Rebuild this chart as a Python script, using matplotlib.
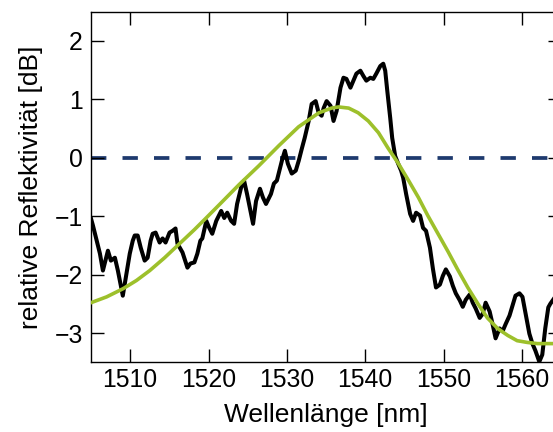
import matplotlib
matplotlib.use("Agg")
import matplotlib.pyplot as plt

plt.rcParams['font.family'] = ['Liberation Sans', 'DejaVu Sans']

# Measured relative reflectivity spectrum
wavelength_nm = [
    1505.00, 1505.25, 1505.51, 1505.89, 1506.14, 1506.52, 1506.90, 1507.16, 1507.54, 1508.05,
    1508.43, 1508.68, 1509.06, 1509.44, 1509.95, 1510.33, 1510.58, 1510.96, 1511.35, 1511.85,
    1512.23, 1512.61, 1512.87, 1513.25, 1513.76, 1514.14, 1514.52, 1515.03, 1515.41, 1515.79,
    1516.04, 1516.68, 1517.31, 1517.69, 1518.20, 1518.58, 1518.96, 1519.21, 1519.72, 1520.10,
    1520.48, 1520.99, 1521.62, 1522.01, 1522.39, 1522.89, 1523.27, 1523.65, 1524.16, 1524.54,
    1524.92, 1525.43, 1525.69, 1526.07, 1526.57, 1526.95, 1527.34, 1527.97, 1528.35, 1528.73,
    1529.37, 1529.75, 1530.13, 1530.63, 1531.14, 1531.52, 1531.90, 1532.28, 1532.79, 1533.17,
    1533.68, 1534.06, 1534.44, 1534.70, 1535.08, 1535.58, 1535.96, 1536.35, 1536.85, 1537.23,
    1537.61, 1538.12, 1538.50, 1538.88, 1539.39, 1539.77, 1540.15, 1540.66, 1541.04, 1541.42,
    1541.93, 1542.31, 1542.56, 1542.82, 1543.20, 1543.45, 1543.83, 1544.21, 1544.59, 1544.85,
    1545.23, 1545.74, 1546.12, 1546.50, 1547.01, 1547.39, 1547.77, 1548.27, 1548.65, 1549.04,
    1549.54, 1549.92, 1550.30, 1550.81, 1551.19, 1551.57, 1552.08, 1552.46, 1552.84, 1553.35,
    1553.73, 1554.11, 1554.62, 1555.00, 1555.38, 1555.89, 1556.27, 1556.65, 1557.16, 1557.54,
    1557.92, 1558.43, 1558.81, 1559.19, 1559.70, 1560.08, 1560.46, 1560.96, 1561.35, 1561.73,
    1562.23, 1562.61, 1562.99, 1563.38, 1563.63, 1564.10,
]
reflectivity_db = [
    -1.04, -1.16, -1.30, -1.50, -1.64, -1.93, -1.73, -1.59, -1.76, -1.71,
    -1.93, -2.10, -2.36, -2.05, -1.64, -1.42, -1.33, -1.33, -1.54, -1.76,
    -1.71, -1.42, -1.30, -1.28, -1.45, -1.38, -1.45, -1.28, -1.25, -1.21,
    -1.47, -1.62, -1.88, -1.81, -1.79, -1.64, -1.42, -1.38, -1.08, -1.20,
    -1.30, -1.08, -0.91, -1.03, -0.94, -1.08, -1.13, -0.79, -0.51, -0.39,
    -0.62, -0.96, -1.13, -0.74, -0.53, -0.68, -0.79, -0.62, -0.44, -0.39,
    -0.05, 0.12, -0.10, -0.27, -0.22, -0.05, 0.15, 0.34, 0.63, 0.92,
    0.97, 0.77, 0.72, 0.85, 0.97, 0.89, 0.63, 0.80, 1.20, 1.37,
    1.35, 1.20, 1.32, 1.44, 1.49, 1.40, 1.32, 1.37, 1.35, 1.44,
    1.57, 1.61, 1.49, 1.15, 0.68, 0.34, 0.03, -0.10, -0.22, -0.34,
    -0.62, -0.96, -1.08, -0.94, -0.99, -1.20, -1.25, -1.54, -1.90, -2.22,
    -2.17, -2.02, -1.91, -2.03, -2.19, -2.32, -2.44, -2.55, -2.43, -2.34,
    -2.48, -2.58, -2.74, -2.67, -2.48, -2.63, -2.85, -3.09, -2.92, -2.97,
    -2.85, -2.70, -2.53, -2.36, -2.32, -2.38, -2.65, -3.01, -3.18, -3.30,
    -3.49, -3.37, -2.92, -2.56, -2.50, -2.41,
]

# Fitted model curve
fit_wavelength_nm = [
    1505.0, 1507.0, 1509.1, 1510.8, 1512.5, 1514.4, 1516.3, 1518.2, 1519.7, 1521.4,
    1523.9, 1526.4, 1529.0, 1531.5, 1534.1, 1535.7, 1536.6, 1537.9, 1539.1, 1540.4,
    1541.7, 1542.9, 1544.2, 1545.5, 1546.8, 1548.0, 1549.3, 1550.6, 1551.8, 1553.1,
    1554.4, 1555.6, 1556.9, 1558.2, 1559.4, 1560.7, 1562.0, 1563.6, 1564.6,
]
fit_db = [
    -2.48, -2.38, -2.24, -2.10, -1.93, -1.71, -1.47, -1.23, -1.03, -0.80,
    -0.46, -0.14, 0.21, 0.53, 0.77, 0.85, 0.87, 0.85, 0.77, 0.63,
    0.43, 0.17, -0.09, -0.38, -0.68, -0.99, -1.30, -1.61, -1.91, -2.22,
    -2.50, -2.74, -2.92, -3.04, -3.13, -3.16, -3.18, -3.18, -3.18,
]

reference_level_db = 0.0
x_ticks = [1510, 1520, 1530, 1540, 1550, 1560]
y_ticks = [-3, -2, -1, 0, 1, 2]

fig = plt.figure(figsize=(5.53, 4.32), dpi=100)
ax = fig.add_axes([91 / 553, 1 - 362.3 / 432, 470 / 553, 350.6 / 432])

ax.axhline(reference_level_db, color='#1e3a6e', lw=2.7, dashes=(4.1, 4.3),
           dash_capstyle='butt', zorder=1)
ax.plot(wavelength_nm, reflectivity_db, color='black', lw=2.9,
        solid_joinstyle='round', zorder=2)
ax.plot(fit_wavelength_nm, fit_db, color='#9dc02b', lw=2.6, zorder=3)

ax.set_xlim(1505, 1565)
ax.set_ylim(-3.5, 2.5)
ax.set_xticks(x_ticks)
ax.set_yticks(y_ticks)
ax.set_yticklabels(['\u22123', '\u22122', '\u22121', '0', '1', '2'])

ax.tick_params(direction='in', top=True, right=True, length=9.5, width=1.0,
               labelsize=17.8, colors='black')
ax.tick_params(axis='x', pad=4)
ax.tick_params(axis='y', pad=6)
for s in ax.spines.values():
    s.set_linewidth(1.0)

ax.set_xlabel('Wellenlänge [nm]', fontsize=19, labelpad=8)
ax.set_ylabel('relative Reflektivität [dB]', fontsize=19, labelpad=8)

fig.savefig('out.png', dpi=100)
